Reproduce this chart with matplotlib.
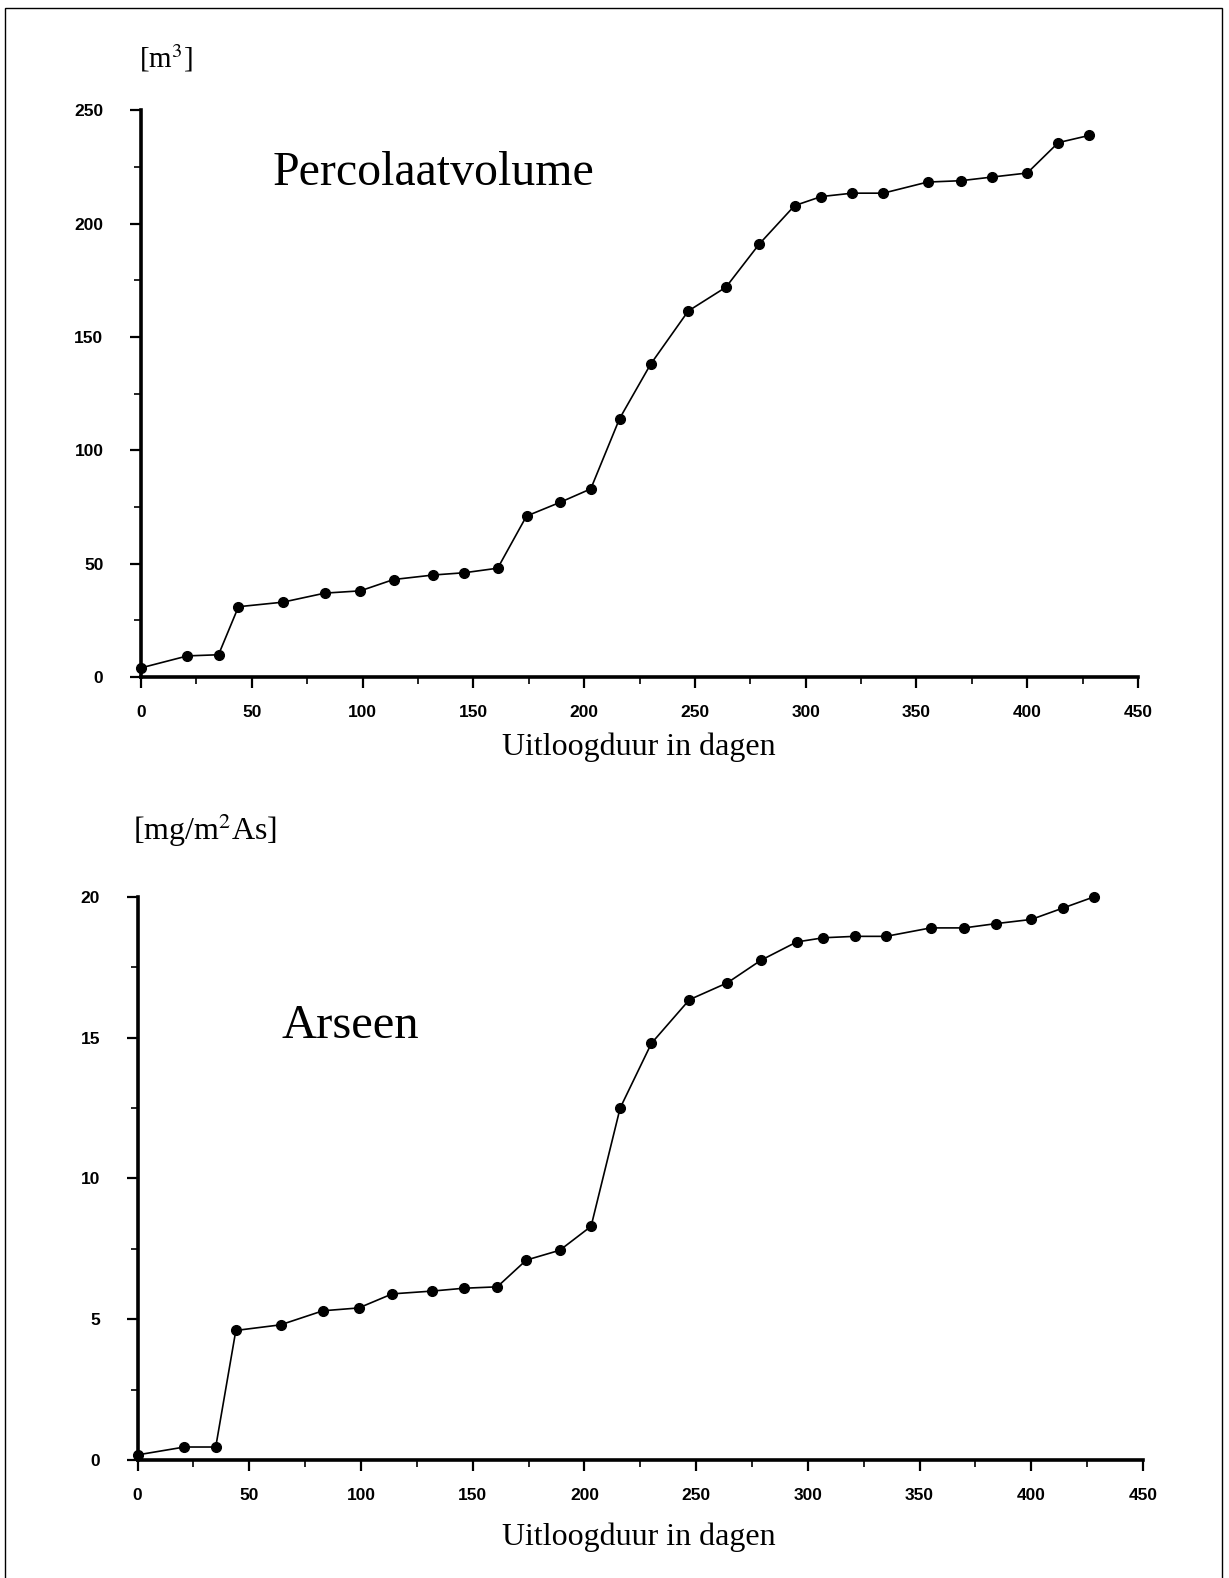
import numpy as np
import matplotlib.pyplot as plt
from matplotlib.patches import Rectangle
from matplotlib.ticker import MultipleLocator

# uitloogduur (dagen)
dagen = [0, 21, 35, 44, 64, 83, 99, 114, 132, 146, 161, 174, 189, 203, 216,
         230, 247, 264, 279, 295, 307, 321, 335, 355, 370, 384, 400, 414, 428]

# cumulatief percolaatvolume [m3]
percolaat = [4, 9.3, 9.8, 31, 33, 37, 38, 43, 45, 46, 48, 71, 77, 83, 114,
             138, 161.5, 172, 191, 208, 212, 213.5, 213.5, 218.4, 219, 220.6,
             222.4, 235.8, 239]

# cumulatieve uitloging arseen [mg/m2]
arseen = [0.18, 0.46, 0.46, 4.6, 4.8, 5.3, 5.4, 5.9, 6.0, 6.1, 6.15, 7.1,
          7.45, 8.3, 12.5, 14.8, 16.35, 16.95, 17.75, 18.4, 18.55, 18.6, 18.6,
          18.9, 18.9, 19.05, 19.2, 19.6, 20.0]

serif = "Liberation Serif"
sans = "Liberation Sans"

fig = plt.figure(figsize=(12.29, 15.78), dpi=100)
fig.patches.append(Rectangle((0.004, -0.02), 0.99, 1.015, transform=fig.transFigure,
                             fill=False, lw=1.0, ec="black"))


def opmaak(ax, ymax, ymajor):
    ax.set_xlim(0, 450)
    ax.set_ylim(0, ymax)
    for s in ("top", "right"):
        ax.spines[s].set_visible(False)
    for s in ("left", "bottom"):
        ax.spines[s].set_linewidth(2.6)
    ax.xaxis.set_major_locator(MultipleLocator(50))
    ax.xaxis.set_minor_locator(MultipleLocator(25))
    ax.yaxis.set_major_locator(MultipleLocator(ymajor))
    ax.yaxis.set_minor_locator(MultipleLocator(ymajor / 2))
    ax.tick_params(which="major", direction="out", length=8, width=1.6,
                   labelsize=12.5)
    ax.tick_params(which="minor", direction="out", length=5, width=1.2)
    ax.tick_params(axis="x", pad=12)
    ax.tick_params(axis="y", pad=19)
    for lab in ax.get_xticklabels() + ax.get_yticklabels():
        lab.set_fontfamily(sans)
        lab.set_fontweight("bold")


# bovenste grafiek: percolaatvolume
ax1 = fig.add_axes([0.1147, 0.571, 0.8113, 0.359])
ax1.plot(dagen, percolaat, "-o", color="black", lw=1.2, ms=7, clip_on=False)
opmaak(ax1, 250, 50)
ax1.text(0.132, 0.89, "Percolaatvolume", transform=ax1.transAxes,
         fontfamily=serif, fontsize=34.5, va="center")
fig.text(0.135, 0.963, r"[m$^3$]", fontfamily=serif, fontsize=21,
         ha="center", va="center", math_fontfamily="stix")
fig.text(0.52, 0.5265, "Uitloogduur in dagen", fontfamily=serif, fontsize=23,
         ha="center", va="center")

# onderste grafiek: arseen
ax2 = fig.add_axes([0.1119, 0.0748, 0.8181, 0.3568])
ax2.plot(dagen, arseen, "-o", color="black", lw=1.2, ms=7, clip_on=False)
opmaak(ax2, 20, 5)
ax2.text(0.143, 0.77, "Arseen", transform=ax2.transAxes,
         fontfamily=serif, fontsize=35, va="center")
fig.text(0.167, 0.474, r"[mg/m$^2$As]", fontfamily=serif, fontsize=23,
         ha="center", va="center", math_fontfamily="stix")
fig.text(0.52, 0.026, "Uitloogduur in dagen", fontfamily=serif, fontsize=23,
         ha="center", va="center")

fig.savefig("out.png", dpi=100)
